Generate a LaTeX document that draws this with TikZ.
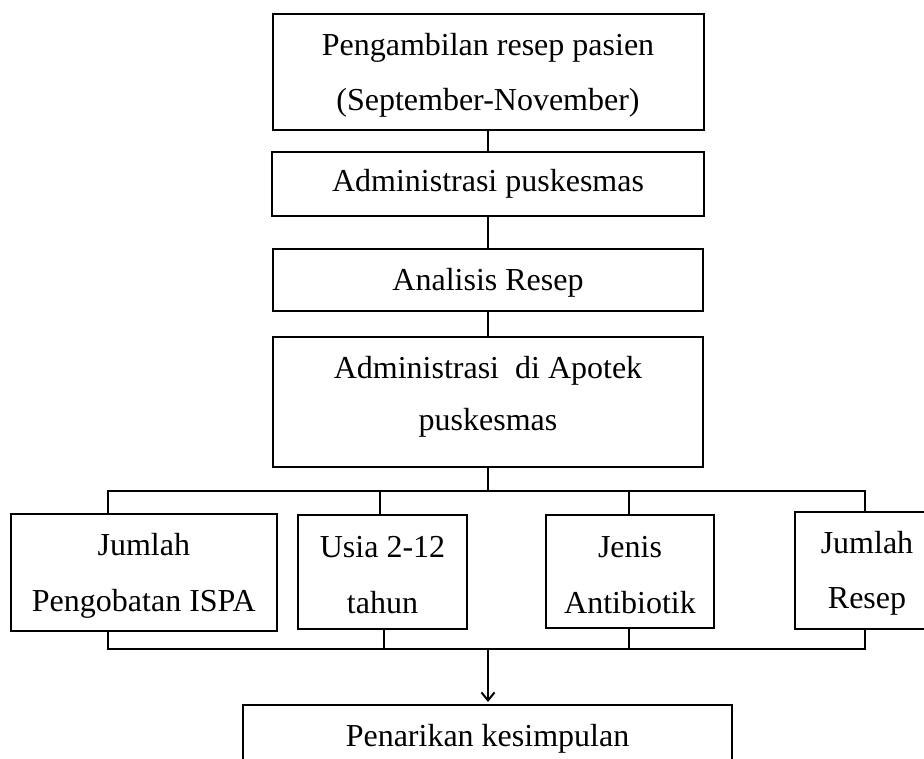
\documentclass[tikz,border=0pt]{standalone}
\usepackage{fontspec}
\setmainfont{Liberation Serif}
\usetikzlibrary{arrows.meta}
\newcommand{\toph}[1]{\rule{0pt}{#1}}
\newcommand{\botd}[1]{\rule[-#1]{0pt}{0pt}}
\begin{document}
\begin{tikzpicture}[x=1pt,y=-1pt,
  box/.style={draw=black, line width=2pt, rectangle, inner sep=0pt, align=center,
    font=\fontsize{32}{55}\selectfont},
  lowbox/.style={box, font=\fontsize{32}{56}\selectfont},
  conn/.style={draw=black, line width=2pt},
  arr/.style={conn, -{Straight Barb[length=8pt,width=13pt,line width=2pt]}}]
\useasboundingbox (0,0) rectangle (924,758);
\clip (0,0) rectangle (924,758);
\fill[white] (0,0) rectangle (924,758);
% main column
\node[box, minimum width=431pt, minimum height=116pt] (b1) at (488,72)
  {\toph{28pt}Pengambilan resep pasien\\(September-November)};
\node[box, minimum width=432pt, minimum height=64pt] (b2) at (488,184)
  {Administrasi puskesmas};
\node[box, minimum width=430pt, minimum height=62pt] (b3) at (488,280)
  {\toph{27pt}Analisis Resep};
\node[box, font=\fontsize{32}{52}\selectfont, minimum width=430pt, minimum height=130pt] (b4) at (488,402)
  {Administrasi\ \ di Apotek\\puskesmas\botd{18pt}};
% branch boxes
\node[lowbox, minimum width=266pt, minimum height=117pt] (c1) at (143.8,572.5)
  {\toph{28pt}Jumlah\\Pengobatan ISPA};
\node[lowbox, minimum width=169pt, minimum height=114pt] (c2) at (382.5,572)
  {\toph{28pt}Usia 2-12\\tahun};
\node[lowbox, minimum width=168pt, minimum height=113pt] (c3) at (630,571.5)
  {\toph{28pt}Jenis\\Antibiotik};
\node[box, minimum width=144pt, minimum height=117pt] (c4) at (867,570.5)
  {\toph{28pt}Jumlah\\Resep};
% final box
\node[box, minimum width=489pt, minimum height=68pt] (b5) at (487.5,739)
  {Penarikan kesimpulan};
% vertical links
\draw[conn] (b1.south) -- (b2.north);
\draw[conn] (b2.south) -- (b3.north);
\draw[conn] (b3.south) -- (b4.north);
% upper bus
\coordinate (ut) at (488,491);
\coordinate (u1) at (108,491);
\coordinate (u2) at (380,491);
\coordinate (u3) at (629,491);
\coordinate (u4) at (865,491);
\draw[conn] (b4.south) -- (ut);
\draw[conn] (u1 |- c1.north) -- (u1) -- (u4) -- (u4 |- c4.north);
\draw[conn] (u2) -- (u2 |- c2.north);
\draw[conn] (u3) -- (u3 |- c3.north);
% lower bus
\coordinate (l1) at (108,649);
\coordinate (l2) at (384,649);
\coordinate (l3) at (629,649);
\coordinate (l4) at (865,649);
\coordinate (lm) at (488,649);
\draw[conn] (l1 |- c1.south) -- (l1) -- (l4) -- (l4 |- c4.south);
\draw[conn] (l2) -- (l2 |- c2.south);
\draw[conn] (l3) -- (l3 |- c3.south);
\coordinate (tip) at (488,702);
\draw[arr] (lm) -- (tip);
\end{tikzpicture}
\end{document}
